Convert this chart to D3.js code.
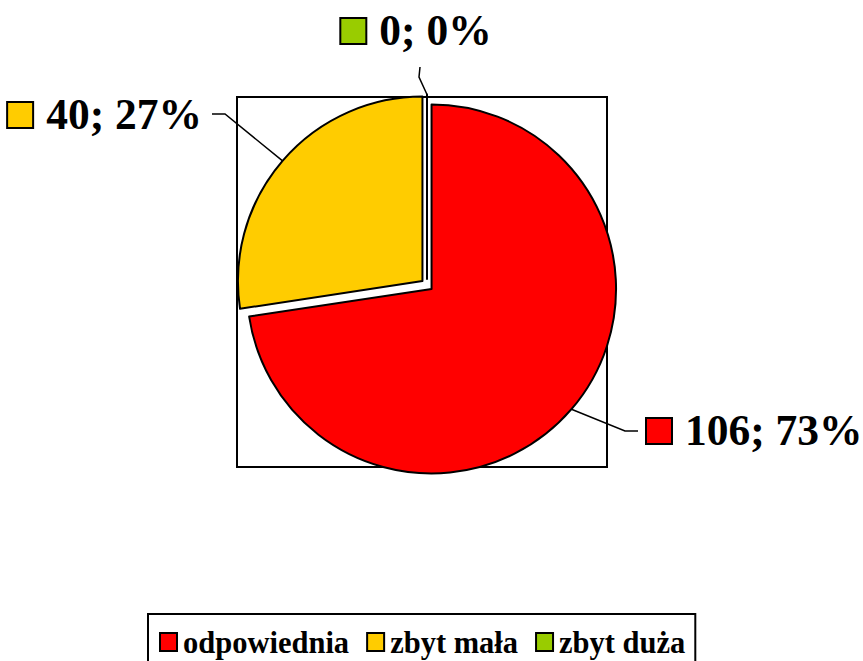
<!DOCTYPE html>
<html>
<head>
<meta charset="utf-8">
<script src="https://cdn.jsdelivr.net/npm/d3@7"></script>
<style>
  html, body { margin: 0; padding: 0; background: #fff; }
  svg { display: block; font-family: "Liberation Serif", "Times New Roman", serif; font-weight: bold; }
</style>
</head>
<body>
<div id="chart"></div>
<script>
const categories = ["odpowiednia", "zbyt mała", "zbyt duża"];
const values = [106, 40, 0];
const colors = ["#ff0000", "#ffcc00", "#99cc00"];

const width = 863;
const height = 661;

// plot area (Excel style frame) and pie geometry
const plot = { x: 237, y: 97, size: 370 };
const center = { x: 427, y: 285 };
const radius = 184.5;
const explode = 6;

// where each leader line ends, and on which side the label sits
const labelLayout = [
  { bend: [625, 431], end: [638, 431], side: "right" },
  { bend: [225, 114], end: [212, 114], side: "left" },
  { bend: [419, 77], end: [420, 67], side: "top" },
];

const total = d3.sum(values);
const data = categories.map((name, i) => ({ name, value: values[i], color: colors[i], i }));

const svg = d3.select("#chart").append("svg")
  .attr("width", width)
  .attr("height", height);

svg.append("rect")
  .attr("x", plot.x)
  .attr("y", plot.y)
  .attr("width", plot.size)
  .attr("height", plot.size)
  .attr("fill", "#fff")
  .attr("stroke", "#000")
  .attr("stroke-width", 2);

const pie = d3.pie().sort(null).value((d) => d.value);
const arc = d3.arc().innerRadius(0).outerRadius(radius);
const arcs = pie(data);

const offsetOf = (a) => {
  const mid = (a.startAngle + a.endAngle) / 2;
  return [Math.sin(mid) * explode, -Math.cos(mid) * explode];
};

const g = svg.append("g").attr("transform", `translate(${center.x},${center.y})`);

g.selectAll("path.slice")
  .data(arcs)
  .join("path")
  .attr("class", "slice")
  .attr("transform", (a) => `translate(${offsetOf(a)})`)
  .attr("d", arc)
  .attr("fill", (a) => a.data.color)
  .attr("stroke", "#000")
  .attr("stroke-width", 2)
  .attr("stroke-linejoin", "round");

// data labels with leader lines
const pct = d3.format(".0%");

arcs.forEach((a) => {
  const lay = labelLayout[a.index];
  const [ox, oy] = offsetOf(a);
  const mid = (a.startAngle + a.endAngle) / 2;
  const sx = center.x + ox + Math.sin(mid) * radius;
  const sy = center.y + oy - Math.cos(mid) * radius;

  svg.append("path")
    .attr("d", d3.line()([[sx, sy], lay.bend, lay.end]))
    .attr("fill", "none")
    .attr("stroke", "#000")
    .attr("stroke-width", 1.5);

  const lbl = svg.append("g");
  lbl.append("rect")
    .attr("x", 0)
    .attr("y", -13)
    .attr("width", 26)
    .attr("height", 26)
    .attr("fill", a.data.color)
    .attr("stroke", "#000")
    .attr("stroke-width", 2);
  const t = lbl.append("text")
    .attr("x", 39)
    .attr("y", 14)
    .attr("font-size", 43.5)
    .text(`${a.data.value}; ${pct(a.data.value / total)}`);

  const w = 39 + t.node().getComputedTextLength();
  let lx, ly;
  if (lay.side === "right") {
    lx = lay.end[0] + 8;
    ly = lay.end[1];
  } else if (lay.side === "left") {
    lx = lay.end[0] - 10 - w;
    ly = lay.end[1] + 1;
  } else {
    lx = lay.end[0] - 4 - w / 2;
    ly = lay.end[1] - 36;
  }
  lbl.attr("transform", `translate(${lx},${ly})`);
});

// legend
const legend = svg.append("g");
const items = legend.selectAll("g")
  .data(data)
  .join("g");

items.append("rect")
  .attr("x", 0)
  .attr("y", -18)
  .attr("width", 17)
  .attr("height", 18)
  .attr("fill", (d) => d.color)
  .attr("stroke", "#000")
  .attr("stroke-width", 2);

items.append("text")
  .attr("x", 23)
  .attr("y", 2)
  .attr("font-size", 30.5)
  .text((d) => d.name);

let cx = 0;
items.each(function () {
  const node = d3.select(this);
  node.attr("transform", `translate(${cx},0)`);
  cx += 23 + node.select("text").node().getComputedTextLength() + 18;
});
const legendWidth = cx - 18;
const legendLeft = 160;
const legendBaseline = 651;
legend.attr("transform", `translate(${legendLeft},${legendBaseline})`);

svg.insert("rect", ":first-child")
  .attr("x", legendLeft - 12)
  .attr("y", 614)
  .attr("width", legendWidth + 22)
  .attr("height", 80)
  .attr("fill", "#fff")
  .attr("stroke", "#000")
  .attr("stroke-width", 2);
</script>
</body>
</html>
